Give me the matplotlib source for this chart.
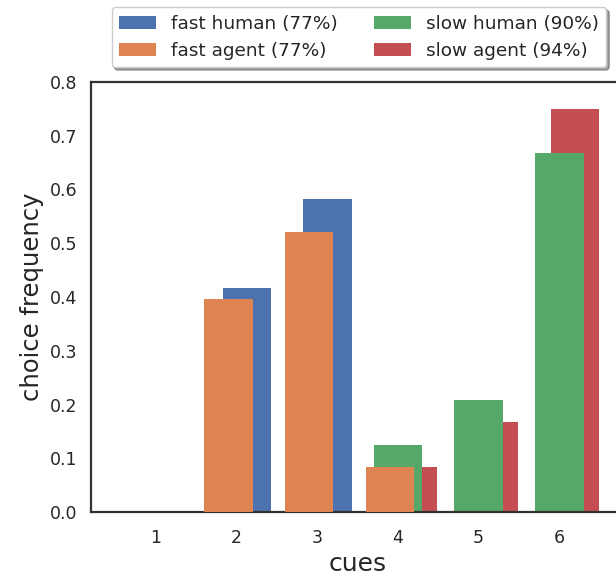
import numpy as np
import matplotlib
matplotlib.use("Agg")
import matplotlib.pyplot as plt
import seaborn as sns

cues = [1, 2, 3, 4, 5, 6]
fast_human = [0.0, 0.417, 0.583, 0.0, 0.0, 0.0]
fast_agent = [0.0, 0.397, 0.521, 0.083, 0.0, 0.0]
slow_human = [0.0, 0.0, 0.0, 0.125, 0.208, 0.667]
slow_agent = [0.0, 0.0, 0.0, 0.083, 0.167, 0.75]
labels = ["fast human (77%)", "fast agent (77%)", "slow human (90%)", "slow agent (94%)"]
offsets = {"fast human": 0.13, "fast agent": -0.10, "slow human": 0.0, "slow agent": 0.19}

sns.set_style("white")
pal = sns.color_palette("deep")
c_blue, c_orange, c_green, c_red = pal[0], pal[1], pal[2], pal[3]

fig = plt.figure(figsize=(6.16, 5.75), dpi=100)
ax = fig.add_axes([91/616, 63/575, 533/616, 430/575])

x = np.array(cues, dtype=float)
w = 0.6
kw = dict(linewidth=0, edgecolor="none")
h_sa = ax.bar(x + offsets["slow agent"], slow_agent, w, color=c_red, zorder=1, **kw)
h_fh = ax.bar(x + offsets["fast human"], fast_human, w, color=c_blue, zorder=1, **kw)
h_sh = ax.bar(x + offsets["slow human"], slow_human, w, color=c_green, zorder=2, **kw)
h_fa = ax.bar(x + offsets["fast agent"], fast_agent, w, color=c_orange, zorder=3, **kw)

ax.set_xlim(0.2, 6.8)
ax.set_ylim(0, 0.8)
ax.set_xticks(cues)
ax.set_xticklabels([str(c) for c in cues], fontsize=12.5)
ax.set_yticks(np.arange(0, 0.81, 0.1))
ax.set_yticklabels([f"{v:.1f}" for v in np.arange(0, 0.81, 0.1)], fontsize=12.5)
ax.tick_params(axis="x", length=0, pad=12)
ax.tick_params(axis="y", length=0, pad=10)
ax.set_xlabel("cues", fontsize=18, labelpad=4)
ax.set_ylabel("choice frequency", fontsize=17.5, labelpad=4)
for s in ax.spines.values():
    s.set_color("#333333")
    s.set_linewidth(1.6)

fig.legend([h_fh, h_fa, h_sh, h_sa], labels, ncol=2, loc="upper center",
           bbox_to_anchor=(359/616, 1 + 2/575), fontsize=13.3, shadow=True,
           frameon=True, columnspacing=2.0, handlelength=2.0)

fig.savefig("out.png", dpi=100)
